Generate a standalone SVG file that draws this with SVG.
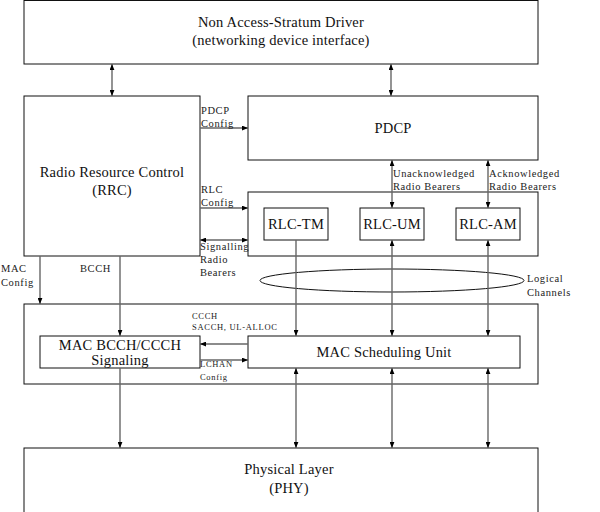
<svg xmlns="http://www.w3.org/2000/svg" width="600" height="512" viewBox="0 0 600 512">
<defs>
<style>
.box{fill:#fff;stroke:#111;stroke-width:1}
.c{stroke:#666;stroke-width:1.4;fill:none}
text{font-family:'Liberation Serif','Times New Roman',serif}
.t{fill:#111;text-anchor:middle}
.big{font-size:14.5px;letter-spacing:0.2px}
.lbl{fill:#222;font-size:10.5px;letter-spacing:0.6px}
.sm{fill:#222;font-size:8.5px;letter-spacing:0.7px}
</style>
<marker id="ah" viewBox="0 0 10 8" refX="10" refY="4" markerWidth="6" markerHeight="5" markerUnits="userSpaceOnUse" orient="auto-start-reverse">
<path d="M0,0 L10,4 L0,8 Z" fill="#000"/>
</marker>
</defs>
<rect width="600" height="512" fill="#fff"/>

<g id="nas"><rect class="box" x="24" y="0.5" width="514" height="63.5"/>
<text class="t big" x="281" y="27">Non Access-Stratum Driver</text>
<text class="t big" x="281" y="45">(networking device interface)</text></g>

<g id="rrc"><rect class="box" x="24" y="96" width="176" height="160"/>
<text class="t big" x="112" y="177">Radio Resource Control</text>
<text class="t big" x="112" y="195">(RRC)</text></g>

<g id="pdcp"><rect class="box" x="248" y="96" width="290" height="64"/>
<text class="t big" x="393" y="133">PDCP</text></g>

<g id="rlc"><rect class="box" x="248" y="192" width="290" height="64"/></g>
<g id="rlc-tm"><rect class="box" x="264" y="208" width="64" height="32"/>
<text class="t big" x="296" y="229">RLC-TM</text></g>
<g id="rlc-um"><rect class="box" x="360" y="208" width="64" height="32"/>
<text class="t big" x="392" y="229">RLC-UM</text></g>
<g id="rlc-am"><rect class="box" x="456" y="208" width="64" height="32"/>
<text class="t big" x="488" y="229">RLC-AM</text></g>

<g id="mac"><rect class="box" x="24" y="304" width="514" height="80"/></g>
<g id="mac-bcch"><rect class="box" x="40" y="336" width="160" height="32"/>
<text class="t big" x="120" y="350">MAC BCCH/CCCH</text>
<text class="t big" x="120" y="365">Signaling</text></g>
<g id="mac-sched"><rect class="box" x="248" y="336" width="272" height="32"/>
<text class="t big" x="384" y="357">MAC Scheduling Unit</text></g>

<g id="phy"><rect class="box" x="24" y="448" width="514" height="70"/>
<text class="t big" x="289" y="474">Physical Layer</text>
<text class="t big" x="289" y="493">(PHY)</text></g>

<g id="logical-channels"><ellipse cx="392" cy="280.5" rx="132" ry="11.5" fill="none" stroke="#111" stroke-width="1"/>
<text class="lbl" x="527" y="282">Logical</text>
<text class="lbl" x="527" y="296">Channels</text></g>

<g id="connectors">
<line class="c" x1="112" y1="64" x2="112" y2="96" marker-start="url(#ah)" marker-end="url(#ah)"/>
<line class="c" x1="391" y1="64" x2="391" y2="96" marker-start="url(#ah)" marker-end="url(#ah)"/>
<line class="c" x1="200" y1="128" x2="248" y2="128" marker-end="url(#ah)"/>
<line class="c" x1="200" y1="208" x2="248" y2="208" marker-end="url(#ah)"/>
<line class="c" x1="200" y1="240" x2="248" y2="240" marker-start="url(#ah)" marker-end="url(#ah)"/>
<line class="c" x1="392" y1="160" x2="392" y2="208" marker-start="url(#ah)" marker-end="url(#ah)"/>
<line class="c" x1="488" y1="160" x2="488" y2="208" marker-start="url(#ah)" marker-end="url(#ah)"/>
<line class="c" x1="296" y1="240" x2="296" y2="336" marker-end="url(#ah)"/>
<line class="c" x1="392" y1="240" x2="392" y2="336" marker-start="url(#ah)" marker-end="url(#ah)"/>
<line class="c" x1="488" y1="240" x2="488" y2="336" marker-start="url(#ah)" marker-end="url(#ah)"/>
<line class="c" x1="40" y1="256" x2="40" y2="304" marker-end="url(#ah)"/>
<line class="c" x1="120" y1="256" x2="120" y2="336" marker-end="url(#ah)"/>
<line class="c" x1="248" y1="344" x2="200" y2="344" marker-end="url(#ah)"/>
<line class="c" x1="200" y1="360" x2="248" y2="360" marker-end="url(#ah)"/>
<line class="c" x1="120" y1="368" x2="120" y2="448" marker-end="url(#ah)"/>
<line class="c" x1="296" y1="368" x2="296" y2="448" marker-start="url(#ah)" marker-end="url(#ah)"/>
<line class="c" x1="392" y1="368" x2="392" y2="448" marker-start="url(#ah)" marker-end="url(#ah)"/>
<line class="c" x1="488" y1="368" x2="488" y2="448" marker-start="url(#ah)" marker-end="url(#ah)"/>
</g>

<g id="labels">
<text class="lbl" x="201" y="114">PDCP</text>
<text class="lbl" x="201" y="127">Config</text>
<text class="lbl" x="201" y="193">RLC</text>
<text class="lbl" x="201" y="206">Config</text>
<text class="lbl" x="200" y="250">Signalling</text>
<text class="lbl" x="200" y="263">Radio</text>
<text class="lbl" x="200" y="276">Bearers</text>
<text class="lbl" x="393" y="177">Unacknowledged</text>
<text class="lbl" x="393" y="190">Radio Bearers</text>
<text class="lbl" x="489" y="177">Acknowledged</text>
<text class="lbl" x="489" y="190">Radio Bearers</text>
<text class="lbl" x="1" y="272">MAC</text>
<text class="lbl" x="1" y="286">Config</text>
<text class="lbl" x="80" y="272">BCCH</text>
<text class="sm" x="192" y="319">CCCH</text>
<text class="sm" x="192" y="330">SACCH, UL-ALLOC</text>
<text class="sm" x="200" y="367">LCHAN</text>
<text class="sm" x="200" y="380">Config</text>
</g>
</svg>
